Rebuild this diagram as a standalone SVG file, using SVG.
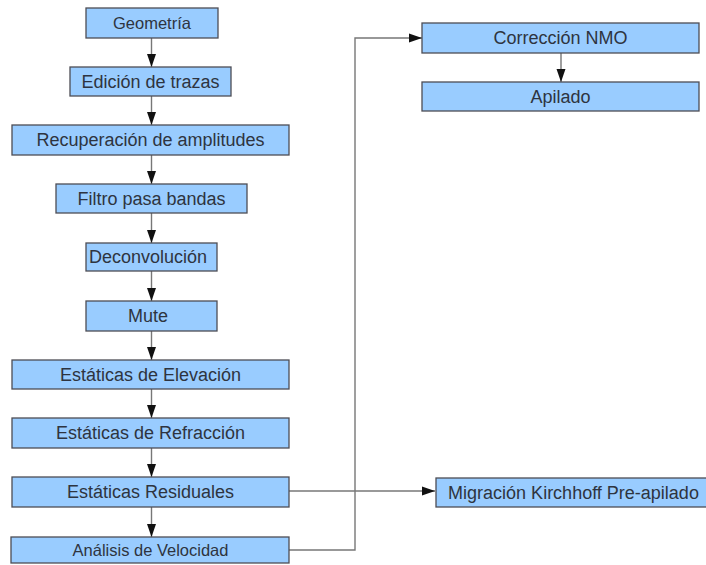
<svg xmlns="http://www.w3.org/2000/svg" width="706" height="565" viewBox="0 0 706 565">
<defs>
<style>
.box{fill:#99ccff;stroke:#4d4d55;stroke-width:1.3}
.t{font-family:"Liberation Sans",Arial,sans-serif;font-size:18px;fill:#2e3440;text-anchor:middle;dominant-baseline:central}
.s{font-size:16.5px}
.c{fill:none;stroke:#777777;stroke-width:1.4}
</style>
<marker id="ah2" viewBox="0 0 13 10" refX="13" refY="5" markerWidth="13" markerHeight="10" markerUnits="userSpaceOnUse" orient="auto">
<path d="M0,0.5 L13,5 L0,9.5 Z" fill="#111111"/>
</marker>
</defs>
<rect width="706" height="565" fill="#ffffff"/>
<g id="connectors">
<line class="c" x1="151.5" y1="38" x2="151.5" y2="67" marker-end="url(#ah2)"/>
<line class="c" x1="151.5" y1="96" x2="151.5" y2="125" marker-end="url(#ah2)"/>
<line class="c" x1="151.5" y1="155" x2="151.5" y2="184" marker-end="url(#ah2)"/>
<line class="c" x1="151.5" y1="213" x2="151.5" y2="243" marker-end="url(#ah2)"/>
<line class="c" x1="151.5" y1="271" x2="151.5" y2="301" marker-end="url(#ah2)"/>
<line class="c" x1="151.5" y1="331" x2="151.5" y2="360" marker-end="url(#ah2)"/>
<line class="c" x1="151.5" y1="389" x2="151.5" y2="418" marker-end="url(#ah2)"/>
<line class="c" x1="151.5" y1="448" x2="151.5" y2="477" marker-end="url(#ah2)"/>
<line class="c" x1="151.5" y1="507" x2="151.5" y2="537" marker-end="url(#ah2)"/>
<line class="c" x1="561" y1="53" x2="561" y2="82" marker-end="url(#ah2)"/>
<polyline class="c" points="289,550 355,550 355,38 422,38" marker-end="url(#ah2)"/>
<line class="c" x1="289" y1="491" x2="435" y2="491" marker-end="url(#ah2)"/>
</g>
<g id="geometria"><rect class="box" x="86" y="8" width="132" height="30"/><text class="t s" x="152" y="23">Geometría</text></g>
<g id="edicion"><rect class="box" x="70" y="67" width="161" height="29"/><text class="t" x="150.5" y="81.5">Edición de trazas</text></g>
<g id="recuperacion"><rect class="box" x="12" y="125" width="277" height="30"/><text class="t" x="150.5" y="140">Recuperación de amplitudes</text></g>
<g id="filtro"><rect class="box" x="56" y="184" width="191" height="29"/><text class="t" x="151.5" y="198.5">Filtro pasa bandas</text></g>
<g id="deconvolucion"><rect class="box" x="86" y="243" width="131" height="28"/><text class="t" x="148" y="257">Deconvolución</text></g>
<g id="mute"><rect class="box" x="86" y="301" width="131" height="30"/><text class="t" x="148" y="316">Mute</text></g>
<g id="elevacion"><rect class="box" x="12" y="360" width="277" height="29"/><text class="t" x="150.5" y="374.5">Estáticas de Elevación</text></g>
<g id="refraccion"><rect class="box" x="12" y="418" width="277" height="30"/><text class="t" x="150.5" y="433">Estáticas de Refracción</text></g>
<g id="residuales"><rect class="box" x="12" y="477" width="277" height="30"/><text class="t" x="150.5" y="492">Estáticas Residuales</text></g>
<g id="analisis"><rect class="box" x="11" y="537" width="278" height="26"/><text class="t s" x="150.5" y="550">Análisis de Velocidad</text></g>
<g id="nmo"><rect class="box" x="422" y="23" width="277" height="30"/><text class="t" x="560.5" y="38">Corrección NMO</text></g>
<g id="apilado"><rect class="box" x="422" y="82" width="277" height="29"/><text class="t" x="560.5" y="96.5">Apilado</text></g>
<g id="migracion"><rect class="box" x="436" y="478" width="280" height="29"/><text class="t" x="573.5" y="492.5">Migración Kirchhoff Pre-apilado</text></g>
</svg>
